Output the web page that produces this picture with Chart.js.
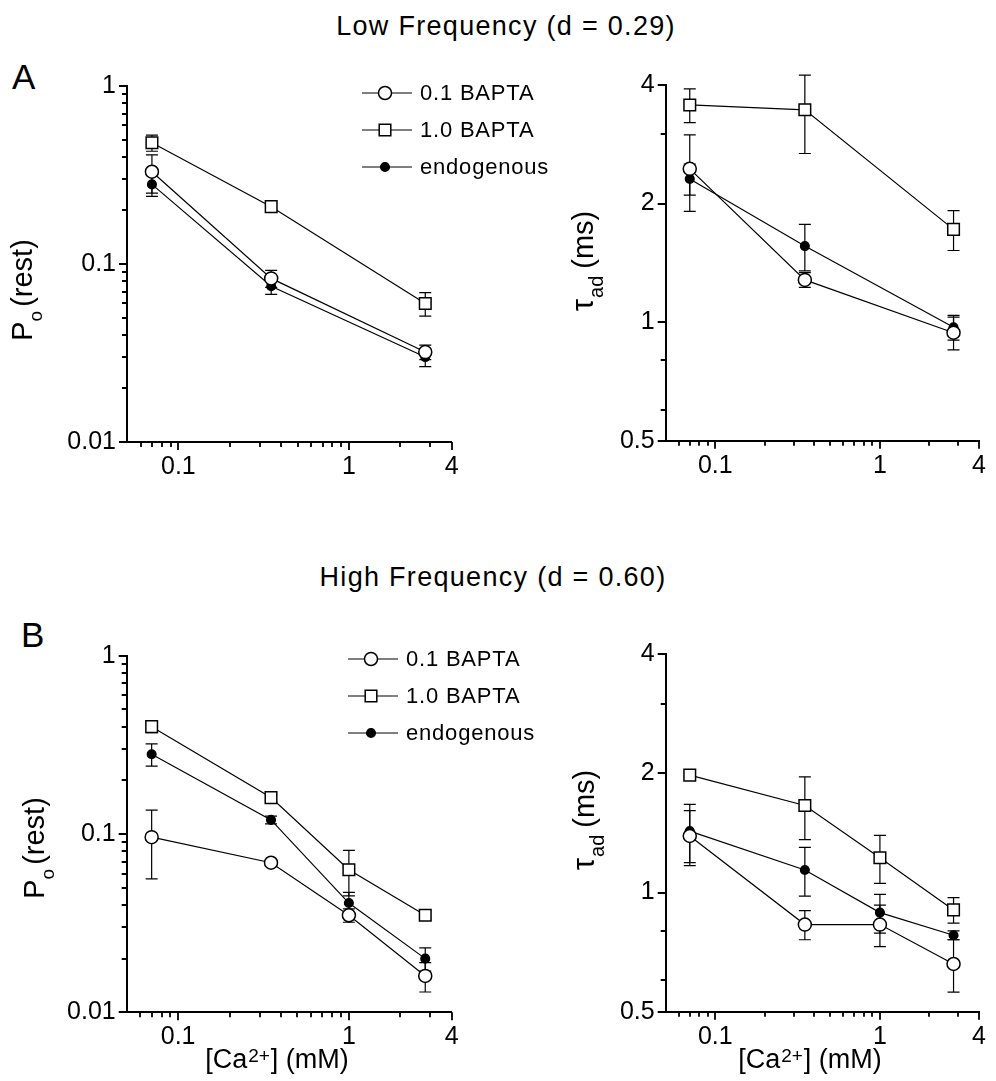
<!DOCTYPE html>
<html>
<head>
<meta charset="utf-8">
<title>Ca dependence of Po(rest) and tau_ad</title>
<script src="https://cdn.jsdelivr.net/npm/chart.js@4.4.1/dist/chart.umd.min.js"></script>
<style>
  body { margin: 0; background: #fff; }
  #page { position: relative; width: 996px; height: 1081px; overflow: hidden; font-family: "Liberation Sans", Arial, sans-serif; color: #000; }
  #page canvas { position: absolute; }
  .heading { position: absolute; width: 600px; text-align: center; font-size: 27px; line-height: 27px; letter-spacing: 1.3px; white-space: nowrap; }
  .panel-letter { position: absolute; font-size: 35px; line-height: 35px; }
</style>
</head>
<body>
<div id="page">
  <div class="heading" style="left:206px; top:13px;">Low Frequency (d = 0.29)</div>
  <div class="heading" style="left:193px; top:564px;">High Frequency (d = 0.60)</div>
  <div class="panel-letter" style="left:12px; top:59px;">A</div>
  <div class="panel-letter" style="left:21px; top:617px;">B</div>

  <canvas id="lowPo" width="560" height="480" style="left:0px; top:50px;"></canvas>
  <canvas id="lowTau" width="436" height="480" style="left:560px; top:50px;"></canvas>
  <canvas id="highPo" width="560" height="491" style="left:0px; top:590px;"></canvas>
  <canvas id="highTau" width="436" height="491" style="left:560px; top:590px;"></canvas>
</div>

<script>
// Resting open probability and adaptation time constant vs. [Ca2+]

const SERIES = ['0.1 BAPTA', '1.0 BAPTA', 'endogenous'];

// [Ca2+] (mM) of each measurement
const caLow = [0.07, 0.35, 2.8];
const caHigh = [0.07, 0.35, 1, 2.8];

// Low frequency (d = 0.29): Po(rest)
const lowPoBapta01 = [0.33, 0.083, 0.032];
const lowPoBapta01Err = [0.08, 0.009, 0.003];
const lowPoBapta10 = [0.48, 0.21, 0.06];
const lowPoBapta10Err = [0.05, 0.01, 0.009];
const lowPoEndo = [0.28, 0.075, 0.030];
const lowPoEndoErr = [0.04, 0.0075, 0.0035];

// Low frequency: tau_ad (ms)
const lowTauBapta01 = [2.45, 1.28, 0.94];
const lowTauBapta01Err = [0.54, 0.055, 0.09];
const lowTauBapta10 = [3.56, 3.46, 1.72];
const lowTauBapta10Err = [0.35, 0.78, 0.2];
const lowTauEndo = [2.31, 1.56, 0.97];
const lowTauEndoErr = [0.21, 0.21, 0.07];

// High frequency (d = 0.60): Po(rest)
const highPoBapta01 = [0.096, 0.069, 0.035, 0.016];
const highPoBapta01Err = [0.04, 0.003, 0.003, 0.003];
const highPoBapta10 = [0.40, 0.16, 0.063, 0.035];
const highPoBapta10Err = [0.03, 0.008, 0.018, 0.002];
const highPoEndo = [0.28, 0.12, 0.041, 0.020];
const highPoEndoErr = [0.04, 0.006, 0.006, 0.003];

// High frequency: tau_ad (ms)
const highTauBapta01 = [1.39, 0.83, 0.83, 0.66];
const highTauBapta01Err = [0.22, 0.07, 0.1, 0.1];
const highTauBapta10 = [1.98, 1.66, 1.225, 0.904];
const highTauBapta10Err = [0.02, 0.3, 0.17, 0.067];
const highTauEndo = [1.43, 1.14, 0.89, 0.78];
const highTauEndoErr = [0.24, 0.16, 0.1, 0.02];

// Tick values
const caMajorTicks = [0.1, 1, 4];
const caMinorTicks = [0.06, 0.07, 0.08, 0.09, 0.2, 0.3, 0.4, 0.5, 0.6, 0.7, 0.8, 0.9, 2, 3];
const poMajorTicks = [0.01, 0.1, 1];
const poMinorTicks = [0.02, 0.03, 0.04, 0.05, 0.06, 0.07, 0.08, 0.09, 0.2, 0.3, 0.4, 0.5, 0.6, 0.7, 0.8, 0.9];
const tauMajorTicks = [0.5, 1, 2, 4];
const tauMinorTicks = [0.6, 0.8, 3];

const FONT = '"Liberation Sans", Arial, sans-serif';
Chart.defaults.font.family = FONT;
Chart.defaults.color = '#000';

// open circle, open square, filled dot
const MARKERS = [
    { style: 'circle', radius: 6.5, fill: '#fff' },
    { style: 'rect', radius: 8.2, fill: '#fff' },
    { style: 'circle', radius: 4.3, fill: '#000' }
];

const drawMarker = (ctx, m, x, y) => {
    ctx.save();
    ctx.fillStyle = m.fill;
    ctx.strokeStyle = '#000';
    ctx.lineWidth = 1.5;
    ctx.beginPath();
    if (m.style === 'rect') {
        const s = m.radius * Math.SQRT1_2;
        ctx.rect(x - s, y - s, 2 * s, 2 * s);
    } else {
        ctx.arc(x, y, m.radius, 0, Math.PI * 2);
    }
    ctx.fill();
    ctx.stroke();
    ctx.restore();
};

const makeDatasets = (ca, seriesValues, seriesErrors) => seriesValues.map((vals, i) => ({
    label: SERIES[i],
    data: ca.map((c, j) => ({ x: c, y: vals[j] })),
    errors: seriesErrors[i],
    showLine: true,
    borderColor: '#000',
    borderWidth: 1.2,
    pointStyle: MARKERS[i].style,
    pointRadius: MARKERS[i].radius,
    pointBackgroundColor: MARKERS[i].fill,
    pointBorderColor: '#000',
    pointBorderWidth: 1.5,
    tension: 0,
    clip: false
}));

// vertical error bars with caps
const errorBars = {
    id: 'errorBars',
    beforeDatasetsDraw(chart) {
        const { ctx, scales: { x, y } } = chart;
        const cap = 6;
        ctx.save();
        ctx.strokeStyle = '#000';
        ctx.lineWidth = 1.2;
        chart.data.datasets.forEach(ds => {
            ds.data.forEach((p, i) => {
                const e = ds.errors[i];
                if (!e) return;
                const px = x.getPixelForValue(p.x);
                const top = y.getPixelForValue(p.y + e);
                const bot = y.getPixelForValue(p.y - e);
                ctx.beginPath();
                ctx.moveTo(px, top); ctx.lineTo(px, bot);
                ctx.moveTo(px - cap, top); ctx.lineTo(px + cap, top);
                ctx.moveTo(px - cap, bot); ctx.lineTo(px + cap, bot);
                ctx.stroke();
            });
        });
        ctx.restore();
    }
};

// outward tick marks: long at labelled values, short at minor values
const tickMarks = (xMinor, yMinor) => ({
    id: 'tickMarks',
    afterDraw(chart) {
        const ctx = chart.ctx;
        const xs = chart.scales.x;
        const ys = chart.scales.y;
        const left = xs.left;
        const bottom = ys.bottom;
        ctx.save();
        ctx.strokeStyle = '#000';
        ctx.lineWidth = 1.8;
        ctx.beginPath();
        const xTick = (v, len) => {
            const px = Math.round(xs.getPixelForValue(v));
            ctx.moveTo(px, bottom);
            ctx.lineTo(px, bottom + len);
        };
        const yTick = (v, len) => {
            const py = Math.round(ys.getPixelForValue(v));
            ctx.moveTo(left, py);
            ctx.lineTo(left - len, py);
        };
        caMajorTicks.forEach(v => xTick(v, 8));
        xMinor.forEach(v => xTick(v, 5));
        ys.ticks.forEach(t => yTick(t.value, 8));
        yMinor.forEach(v => yTick(v, 5));
        ctx.stroke();
        ctx.restore();
    }
});

// text runs with sub/superscripts; each part: [text, size, shift, gapAfter]
const drawRuns = (ctx, parts, x, y) => {
    const widths = parts.map(([text, size]) => {
        ctx.font = `${size}px ${FONT}`;
        return ctx.measureText(text).width;
    });
    const total = widths.reduce((a, w, i) => a + w + (parts[i][3] || 0), 0);
    let cx = x - total / 2;
    parts.forEach(([text, size, shift, gap], i) => {
        ctx.font = `${size}px ${FONT}`;
        ctx.fillText(text, cx, y + (shift || 0));
        cx += widths[i] + (gap || 0);
    });
};

const axisTitles = (yTitle, xTitle) => ({
    id: 'axisTitles',
    afterDraw(chart) {
        const ctx = chart.ctx;
        ctx.save();
        ctx.fillStyle = '#000';
        ctx.textBaseline = 'alphabetic';
        ctx.textAlign = 'left';
        ctx.save();
        ctx.translate(yTitle.x, yTitle.y);
        ctx.rotate(-Math.PI / 2);
        drawRuns(ctx, yTitle.parts, 0, 0);
        ctx.restore();
        if (xTitle) drawRuns(ctx, xTitle.parts, xTitle.x, xTitle.y);
        ctx.restore();
    }
});

// key with a line through each marker
const seriesKey = (key) => ({
    id: 'seriesKey',
    afterDraw(chart) {
        const ctx = chart.ctx;
        ctx.save();
        ctx.font = `22px ${FONT}`;
        if ('letterSpacing' in ctx) ctx.letterSpacing = '0.8px';
        ctx.textBaseline = 'middle';
        SERIES.forEach((name, i) => {
            const y = key.y + i * key.step;
            ctx.strokeStyle = '#000';
            ctx.lineWidth = i === 2 ? 1 : 1.2;
            ctx.beginPath();
            ctx.moveTo(key.x, y);
            ctx.lineTo(key.x + 50, y);
            ctx.stroke();
            drawMarker(ctx, MARKERS[i], key.x + 23, y);
            ctx.fillStyle = '#000';
            ctx.fillText(name, key.x + 58, y + 1);
        });
        ctx.restore();
    }
});

const Y_AXIS_W = 80;
const X_AXIS_H = 45;

function renderPanel(spec) {
    const canvas = document.getElementById(spec.id);
    const ox = parseFloat(canvas.style.left);
    const oy = parseFloat(canvas.style.top);
    const a = spec.area;

    const plugins = [
        errorBars,
        tickMarks(caMinorTicks, spec.yMinor),
        axisTitles(
            { parts: spec.yTitle.parts, x: spec.yTitle.x - ox, y: spec.yTitle.y - oy },
            spec.xTitle ? { parts: spec.xTitle.parts, x: spec.xTitle.x - ox, y: spec.xTitle.y - oy } : null
        )
    ];
    if (spec.key) plugins.push(seriesKey({ x: spec.key.x - ox, y: spec.key.y - oy, step: spec.key.step }));

    return new Chart(canvas.getContext('2d'), {
        type: 'scatter',
        data: { datasets: makeDatasets(spec.ca, spec.values, spec.errors) },
        options: {
            responsive: false,
            animation: false,
            events: [],
            layout: {
                padding: {
                    left: a.left - ox - Y_AXIS_W,
                    right: canvas.width + ox - a.right,
                    top: a.top - oy,
                    bottom: canvas.height + oy - a.bottom - X_AXIS_H
                }
            },
            scales: {
                x: {
                    type: 'logarithmic',
                    min: 0.05,
                    max: 4,
                    bounds: 'data',
                    afterBuildTicks: s => { s.ticks = caMajorTicks.map(v => ({ value: v })); },
                    afterFit: s => { s.height = X_AXIS_H; },
                    grid: { display: false, drawTicks: false },
                    border: { display: true, color: '#000', width: 2 },
                    ticks: {
                        autoSkip: false,
                        maxRotation: 0,
                        padding: 10,
                        font: { size: 25 },
                        color: '#000',
                        callback: v => String(v)
                    }
                },
                y: {
                    type: 'logarithmic',
                    min: spec.yRange[0],
                    max: spec.yRange[1],
                    bounds: 'data',
                    afterBuildTicks: s => { s.ticks = spec.yMajor.map(v => ({ value: v })); },
                    afterFit: s => { s.width = Y_AXIS_W; },
                    grid: { display: false, drawTicks: false },
                    border: { display: true, color: '#000', width: 2 },
                    ticks: {
                        autoSkip: false,
                        padding: 11,
                        font: { size: 25 },
                        color: '#000',
                        callback: v => String(v)
                    }
                }
            },
            plugins: {
                legend: { display: false },
                tooltip: { enabled: false }
            }
        },
        plugins: plugins
    });
}

const poTitle = [['P', 29, 0, 0], ['o', 19, 10, 4], ['(rest)', 29, 0, 0]];
const tauTitle = [['\u03c4', 31, 0, 1], ['ad', 20, 10, 7], ['(ms)', 29, 0, 0]];
const caTitle = [['[Ca', 27, 0, 1], ['2+', 19, -6, 1], ['] (mM)', 27, 0, 0]];

renderPanel({
    id: 'lowPo',
    area: { left: 127, right: 451.7, top: 86, bottom: 442 },
    ca: caLow,
    values: [lowPoBapta01, lowPoBapta10, lowPoEndo],
    errors: [lowPoBapta01Err, lowPoBapta10Err, lowPoEndoErr],
    yRange: [0.01, 1], yMajor: poMajorTicks, yMinor: poMinorTicks,
    yTitle: { parts: poTitle, x: 32, y: 290 },
    key: { x: 362, y: 93, step: 37 }
});

renderPanel({
    id: 'lowTau',
    area: { left: 665.7, right: 990, top: 85, bottom: 440.7 },
    ca: caLow,
    values: [lowTauBapta01, lowTauBapta10, lowTauEndo],
    errors: [lowTauBapta01Err, lowTauBapta10Err, lowTauEndoErr],
    yRange: [0.5, 4], yMajor: tauMajorTicks, yMinor: tauMinorTicks,
    yTitle: { parts: tauTitle, x: 593, y: 261 }
});

renderPanel({
    id: 'highPo',
    area: { left: 126.7, right: 451.7, top: 655.7, bottom: 1012.3 },
    ca: caHigh,
    values: [highPoBapta01, highPoBapta10, highPoEndo],
    errors: [highPoBapta01Err, highPoBapta10Err, highPoEndoErr],
    yRange: [0.01, 1], yMajor: poMajorTicks, yMinor: poMinorTicks,
    yTitle: { parts: poTitle, x: 44, y: 848 },
    xTitle: { parts: caTitle, x: 277, y: 1068 },
    key: { x: 348, y: 659, step: 37 }
});

renderPanel({
    id: 'highTau',
    area: { left: 665.7, right: 990, top: 654.3, bottom: 1011.7 },
    ca: caHigh,
    values: [highTauBapta01, highTauBapta10, highTauEndo],
    errors: [highTauBapta01Err, highTauBapta10Err, highTauEndoErr],
    yRange: [0.5, 4], yMajor: tauMajorTicks, yMinor: tauMinorTicks,
    yTitle: { parts: tauTitle, x: 594, y: 820 },
    xTitle: { parts: caTitle, x: 810, y: 1068 }
});
</script>
</body>
</html>
